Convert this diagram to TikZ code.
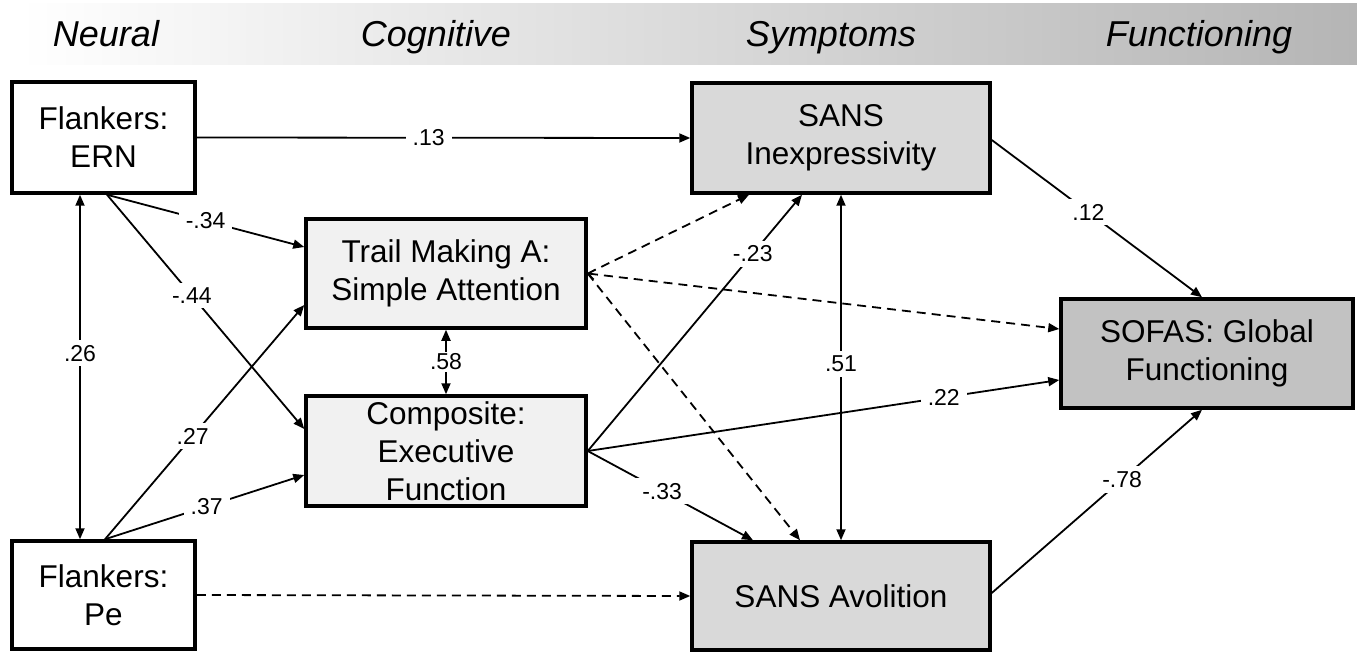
\documentclass[tikz,border=0pt]{standalone}
\usepackage{fontspec}
\setmainfont{Liberation Sans}
\usetikzlibrary{arrows.meta,calc}
\definecolor{lightbox}{gray}{0.945}
\definecolor{midbox}{gray}{0.85}
\definecolor{darkbox}{gray}{0.76}
\definecolor{bandend}{gray}{0.71}
\begin{document}
\begin{tikzpicture}[x=1pt,y=-1pt,
  box/.style={draw=black, line width=3.5pt, align=center, inner sep=0pt,
    font=\fontsize{31.5}{38}\selectfont},
  hdr/.style={font=\fontsize{36}{40}\selectfont\itshape, anchor=base},
  lab/.style={fill=white, font=\fontsize{23}{26}\selectfont, inner xsep=7pt, inner ysep=5pt},
  conn/.style={line width=1.8pt, -{Triangle[length=11pt,width=9pt]}},
  both/.style={line width=1.8pt, {Triangle[length=11pt,width=9pt]}-{Triangle[length=11pt,width=9pt]}},
  dsh/.style={conn, dash pattern=on 9pt off 6pt}]
\useasboundingbox (0,0) rectangle (1357,652);
% header band
\shade[left color=white, right color=bandend] (20,4) rectangle (1357,65);
\node[hdr] (hneural) at (106,47) {Neural};
\node[hdr] (hcog) at (436,47) {Cognitive};
\node[hdr] (hsym) at (831,47) {Symptoms};
\node[hdr] (hfun) at (1199,47) {Functioning};
% boxes
\node[box, fill=white, minimum width=183pt, minimum height=111pt] (ern) at (103.5,137.5) {Flankers:\\ERN};
\node[box, fill=white, minimum width=183pt, minimum height=108pt] (pe) at (103.5,595) {Flankers:\\Pe};
\node[box, fill=lightbox, minimum width=280pt, minimum height=109pt] (trail) at (446,273.5) {Trail Making A:\\Simple Attention};
\node[box, fill=lightbox, minimum width=280pt, minimum height=110pt] (comp) at (446,451) {Composite:\\Executive\\Function};
\node[box, fill=midbox, minimum width=298pt, minimum height=110pt] (inex) at (841,138) {SANS\\Inexpressivity};
\node[box, fill=midbox, minimum width=298pt, minimum height=108pt] (avol) at (841,596) {SANS Avolition};
\node[box, fill=darkbox, minimum width=292pt, minimum height=109pt] (sofas) at (1207,353.5) {SOFAS: Global\\Functioning};
% dashed paths
\draw[dsh] (pe.east) -- (avol.west);
\draw[dsh] (trail.east) -- ($(inex.south)+(-92,0)$);
\draw[dsh, {Straight Barb[length=6pt,width=10pt,line width=1pt]}-{Triangle[length=11pt,width=9pt]}] (trail.east) -- ($(sofas.west)+(0,-24.5)$);
\draw[dsh] (trail.east) -- ($(avol.north)+(-41,0)$);
% solid paths
\draw[conn] (ern.east) -- node[lab, pos=.47] {.13} (inex.west);
\draw[conn] ($(ern.south)+(3.5,0)$) -- node[lab, pos=.5] {-.34} ($(trail.west)+(0,-26.5)$);
\draw[conn] ($(ern.south)+(3.5,0)$) -- node[lab, pos=.43] {-.44} ($(comp.west)+(0,-22)$);
\draw[both] ($(ern.south)+(-23.5,0)$) -- node[lab, pos=.46] {.26} ($(pe.north)+(-23.5,0)$);
\draw[conn] ($(pe.north)+(1.5,0)$) -- node[lab, pos=.44] {.27} ($(trail.west)+(0,31.5)$);
\draw[conn] ($(pe.north)+(1.5,0)$) -- node[lab, pos=.51] {.37} ($(comp.west)+(0,24)$);
\draw[both] (trail.south) -- node[lab, inner ysep=2pt] {.58} (comp.north);
\draw[conn] (comp.east) -- node[lab, pos=.77] {-.23} ($(inex.south)+(-39,0)$);
\draw[conn] (comp.east) -- node[lab, pos=.755] {.22} ($(sofas.west)+(0,26.5)$);
\draw[conn] (comp.east) -- node[lab, pos=.45] {-.33} ($(avol.north)+(-88,0)$);
\draw[both] (avol.north) -- node[lab, pos=.51] {.51} (inex.south);
\draw[conn] ($(inex.east)+(0,2)$) -- node[lab, pos=.46] {.12} ($(sofas.north)+(-5,0)$);
\draw[conn] ($(avol.east)+(0,-3)$) -- node[lab, pos=.62] {-.78} ($(sofas.south)+(-5,0)$);
\end{tikzpicture}
\end{document}
